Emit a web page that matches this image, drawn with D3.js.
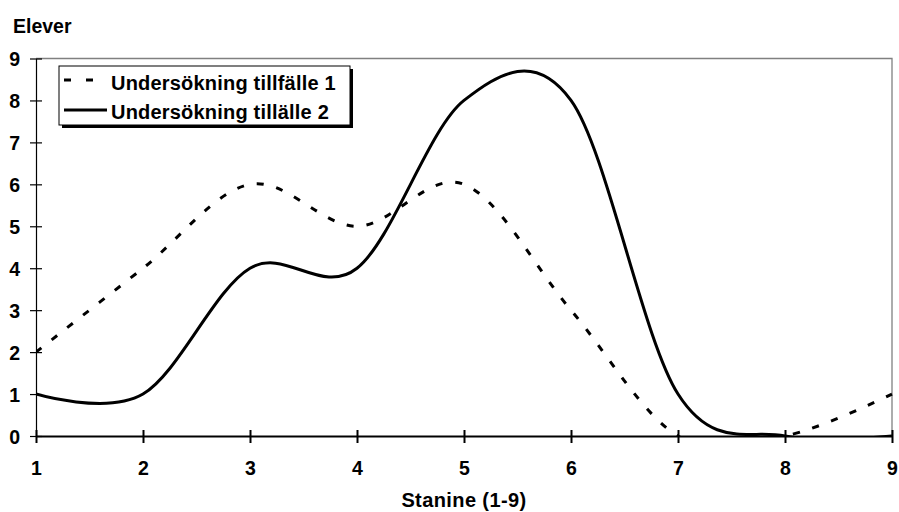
<!DOCTYPE html>
<html><head><meta charset="utf-8">
<script src="https://cdn.jsdelivr.net/npm/d3@7"></script>
<style>body{margin:0;background:#fff}svg{display:block}text{font-family:Arial,"Liberation Sans",sans-serif;font-weight:bold;fill:#000}</style>
</head><body>
<svg id="c" width="899" height="512"></svg>
<script>
const stanine = [1,2,3,4,5,6,7,8,9];
const series1 = [2,4,6,5,6,3,0,0,1];
const series2 = [1,1,4,4,8,8,1,0,0];
const seriesNames = ["Undersökning tillfälle 1","Undersökning tillälle 2"];
const yTicks = [0,1,2,3,4,5,6,7,8,9];
const yTitle = "Elever";
const xTitle = "Stanine (1-9)";

const svg = d3.select("#c");
const L=36,R=892,T=58.5,B=436;
const FF = "Arial,'Liberation Sans',sans-serif";
const x = d3.scaleLinear().domain([1,9]).range([L,R]);
const y = d3.scaleLinear().domain([0,9]).range([B,T]);

svg.append("defs").append("clipPath").attr("id","pc")
  .append("rect").attr("x",L).attr("y",T-2).attr("width",R-L+2).attr("height",B-T+2);

// plot border (top/right gray)
svg.append("path").attr("d",`M${L},${T}H${R}V${B}`).attr("fill","none").attr("stroke","#808080").attr("stroke-width",1.3);

const line = d3.line().x((d,i)=>x(stanine[i])).y(d=>y(d)).curve(d3.curveCardinal.tension(0));
const g = svg.append("g").attr("clip-path","url(#pc)");
g.append("path").attr("d",line(series1)).attr("fill","none").attr("stroke","#000").attr("stroke-width",3).attr("stroke-dasharray","7,13");
g.append("path").attr("d",line(series2)).attr("fill","none").attr("stroke","#000").attr("stroke-width",3);

// y axis
const ya = svg.append("g").attr("transform",`translate(${L},0)`)
  .call(d3.axisLeft(y).tickValues(yTicks).tickSize(0).tickFormat(d3.format("d")));
ya.select(".domain").attr("stroke","#000").attr("stroke-width",1.2);
ya.selectAll(".tick line").remove();
ya.selectAll(".tick").append("line").attr("x1",-6).attr("x2",6).attr("stroke","#000").attr("stroke-width",1.2);
ya.selectAll(".tick text").attr("x",-16).attr("dy","0.36em").style("font-size","19.5px").style("font-family",FF).style("font-weight","bold");

// x axis
const xa = svg.append("g").attr("transform",`translate(0,${B})`)
  .call(d3.axisBottom(x).tickValues(stanine).tickSize(0).tickFormat(d3.format("d")));
xa.select(".domain").attr("stroke","#000").attr("stroke-width",2.2);
xa.selectAll(".tick line").remove();
xa.selectAll(".tick").append("line").attr("y1",-6).attr("y2",7).attr("stroke","#000").attr("stroke-width",2);
xa.selectAll(".tick text").attr("y",39).attr("dy",0).style("font-size","19.5px").style("font-family",FF).style("font-weight","bold");

svg.append("text").attr("x",13).attr("y",33).style("font-size","19.5px").text(yTitle);
svg.append("text").attr("x",(L+R)/2).attr("y",507).attr("text-anchor","middle").style("font-size","20px").style("letter-spacing","0.4px").text(xTitle);

// legend
const lg = svg.append("g");
lg.append("rect").attr("x",62).attr("y",69).attr("width",291).attr("height",59).attr("fill","#000");
lg.append("rect").attr("x",59).attr("y",66).attr("width",291).attr("height",59).attr("fill","#fff").attr("stroke","#000").attr("stroke-width",1);
const ly=[80,110];
const ty=[83,112];
lg.append("line").attr("x1",64).attr("x2",107).attr("y1",ly[0]).attr("y2",ly[0]).attr("stroke","#000").attr("stroke-width",3).attr("stroke-dasharray","7,15");
lg.append("line").attr("x1",64).attr("x2",107).attr("y1",ly[1]).attr("y2",ly[1]).attr("stroke","#000").attr("stroke-width",3);
seriesNames.forEach((n,i)=>{
  lg.append("text").attr("x",111).attr("y",ty[i]).attr("dy","0.36em").style("font-size","20px").style("letter-spacing","0.2px").text(n);
});
</script>
</body></html>
